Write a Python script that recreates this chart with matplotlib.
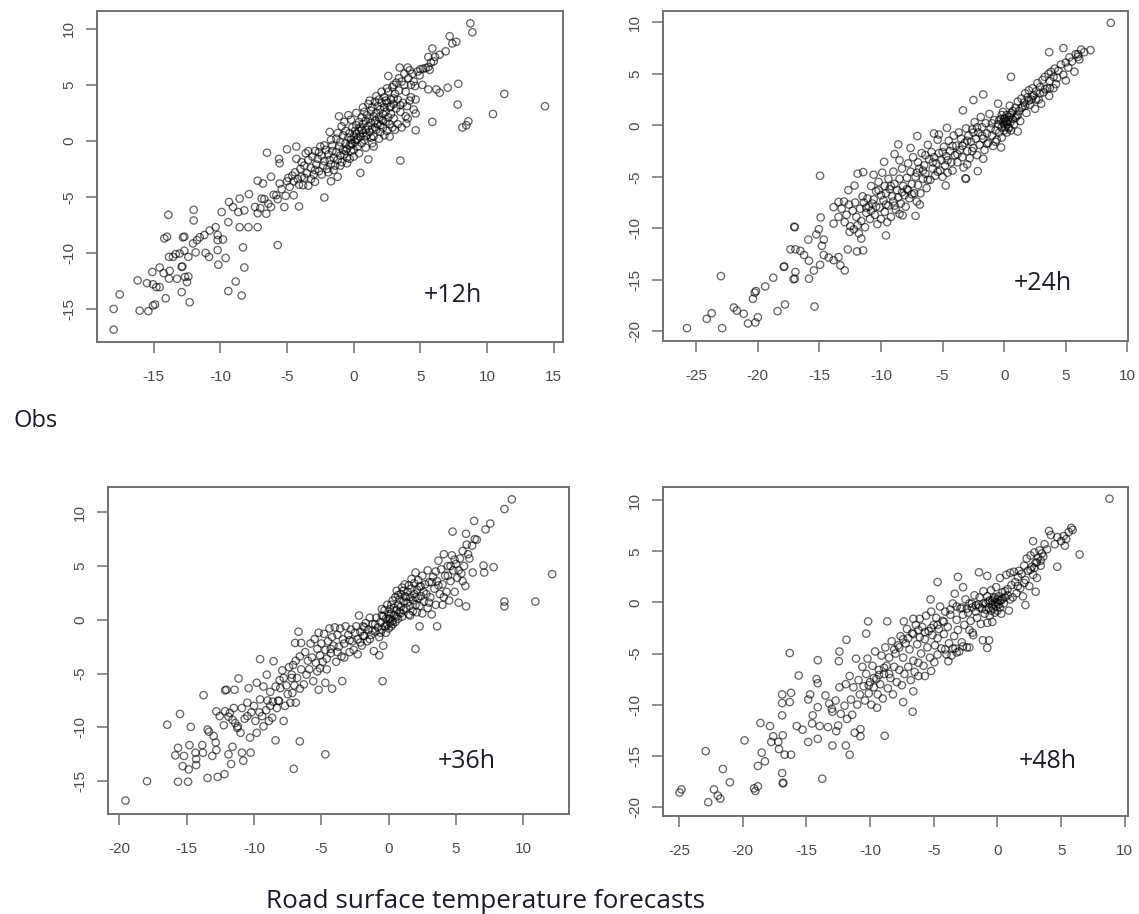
import matplotlib
matplotlib.use("Agg")
import matplotlib.pyplot as plt

plt.rcParams['font.family'] = ['Liberation Sans', 'DejaVu Sans']
plt.rcParams['axes.unicode_minus'] = False

W, H = 1139, 914

obs_fc_12h = [
(-18,-16.85),(-18,-15),(-17.55,-13.7),(-16.05,-15.15),(-15.4,-15.2),(-15.05,-14.7),(-14.9,-14.6),(-16.2,-12.45),(-15.5,-12.7),(-15.1,-11.7),
(-14.55,-11.3),(-14.25,-11.8),(-13.8,-11.6),(-13.85,-12.3),(-13.25,-12.3),(-15.05,-12.8),(-14.8,-13.05),(-14.55,-13.05),(-14.1,-14.05),(-12.9,-13.5),
(-12.3,-14.4),(-12.9,-11.25),(-12.85,-11.2),(-12.65,-12.15),(-12.4,-12.1),(-12.5,-12.6),(-13.9,-6.6),(-12,-6.15),(-12,-7.1),(-14.2,-8.7),(-14,-8.55),
(-12.8,-8.6),(-12.7,-8.55),(-13.85,-10.35),(-13.35,-10.1),(-13.55,-10.35),(-13.05,-10.05),(-12.7,-9.8),(-12.4,-10.35),(-11.85,-9.95),(-12.05,-9.15),
(-11.75,-8.85),(-11.55,-8.6),(-11.2,-8.4),(-10.8,-8),(-10.35,-7.7),(-10.2,-8.4),(-10.2,-8.85),(-9.8,-8.8),(-10.2,-9.75),(-11.1,-10),(-10.85,-10.35),
(-9.6,-10.45),(-10.15,-11.05),(-8.3,-9.5),(-8.2,-11.3),(-8.85,-12.55),(-9.4,-13.4),(-8.4,-13.8),(-5.7,-9.3),(-9.4,-7.25),(-9.9,-6.35),(-9.35,-5.45),
(-9.05,-5.9),(-8.65,-6.35),(-8.2,-6.2),(-8.55,-5.15),(-7.85,-4.75),(-8.55,-7.7),(-7.9,-7.7),(-7.2,-7.7),(-7.2,-6.45),(-6.55,-6.5),(-6.2,-5.9),(-6.9,-5.15),
(-7.4,-5.9),(-7.2,-3.55),(-6.8,-3.8),(-6.2,-3.2),(-5.8,-4.85),(-5.55,-3.8),(-5.2,-5.9),(-4.1,-5.85),(-4.5,-4.85),(-3.8,-3.95),(-6.5,-1.05),(-5.6,-1.6),
(-5.55,-2),(-5,-0.75),(-4.3,-0.5),(-2.2,-5.05),(-2.9,-3.65),(-3.4,-4),(-1.7,-3.6),(-1.2,-3.2),(0.5,-2.85),(1.1,-1.65),(1.5,-0.5),(-0.3,-1.6),(3.5,-1.75),
(4.65,0.95),(5.9,1.7),(4.65,2.45),(3.95,1.55),(4.05,2),(8.15,1.2),(8.6,1.75),(8.45,1.4),(10.45,2.4),(11.3,4.2),(14.35,3.1),(7.8,3.25),(7.85,5.1),(7.05,4.75),
(6.45,4.3),(6.2,4.6),(5.6,4.6),(5.15,5),(4.65,3.7),(8.75,10.5),(8.9,9.7),(7.7,8.85),(7.2,9.35),(7.4,8.7),(5.9,8.25),(6.9,8),(6.45,7.7),(6.1,7.5),(5.6,7.5),
(5.7,6.35),(5.2,6.45),(4.95,5.85),(4.2,6.3),(3.45,6.55),(4.05,6.55),(2.6,5.8),
(-4.9,-3.3),(-4.6,-3.1),(-4.4,-2.8),(-4.2,-3.4),(-4,-2.5),(-3.9,-3.2),(-3.7,-2.2),(-3.6,-1.1),(-3.5,-2.9),(-3.4,-1.7),(-3.2,-2.4),(-3.1,-1.4),(-3,-3),(-2.9,-0.9),
(-2.8,-2.1),(-2.7,-1.6),(-2.6,-2.7),(-2.5,-0.5),(-2.4,-1.3),(-2.3,-2.2),(-2.2,-1.8),(-2.1,-0.8),(-2,-2.5),(-1.9,-1.2),(-1.8,-1.7),(-1.8,0.8),(-1.7,-2.1),(-1.6,-0.4),
(-1.6,-0.9),(-1.5,-1.5),(-1.4,-2.2),(-1.3,0.2),(-1.3,-1),(-1.2,-1.7),(-1.1,-0.5),(-1.1,2.2),(-1,-1.3),(-1,-0.1),(-0.9,-1.9),(-0.9,1.3),(-0.8,-0.8),(-0.8,0.5),(-0.7,-1.2),
(-0.6,-0.2),(-0.6,0.9),(-0.5,-0.7),(-0.5,-1.5),(-0.4,0.3),(-0.4,2.3),(-0.3,-0.4),(-0.3,0.7),(-0.2,-0.9),(-0.2,0.1),(-0.1,1.2),(-0.1,-0.3),(0,0.4),(0,-0.8),(0.1,0.9),
(0.1,-0.1),(0.2,0.6),(0.2,1.4),(0.3,0.2),(0.3,-0.5),(0.4,0.9),(0.4,1.7),(0.5,0.4),(0.5,1.2),(0.6,-0.2),(0.6,2.1),(0.7,0.7),(0.7,1.5),(0.8,0.1),(0.8,2.6),(0.9,1),(0.9,1.8),
(1,0.5),(1,2.3),(1.1,1.3),(1.1,3.3),(1.2,0.8),(1.2,2),(1.3,1.6),(1.3,2.7),(1.4,1.1),(1.4,3),(1.5,0.4),(1.5,2.2),(1.6,1.8),(1.6,3.5),(1.7,2.5),(1.7,1),(1.8,3.1),(1.8,1.5),
(1.9,2.1),(1.9,3.7),(2,0.8),(2,2.8),(2.1,3.4),(2.1,1.9),(2.2,2.4),(2.2,1.2),(2.3,3),(2.3,3.9),(2.4,1.7),(2.4,2.6),(2.5,3.4),(2.5,0.9),(2.6,2.1),(2.6,4.4),(2.7,3),(2.7,1.5),
(2.8,3.7),(2.8,2.4),(2.9,4.8),(2.9,1.2),(3,3.3),(3,2),(3.1,4.2),(3.2,2.9),(3.2,5.2),(3.3,3.7),(3.3,1.5),(3.4,4.5),(3.5,2.6),(3.6,5.3),(3.7,3.4),(3.8,5),(3.9,4.4),(4,3.1),
(4.1,5.6),(4.2,3.6),(4.3,5),(4.4,6),(4.5,5.3),(4.6,4.9),(4.8,6.2),(5,6.4),(5.4,6.5),(5.6,6.6),(5.8,7),(6,7.1),
(-7,-6),(-6.7,-5.2),(-6.4,-5.6),(-6,-4.8),(-5.7,-5.2),(-5.4,-4.3),(-5.1,-4.9),(-5,-3.6),(-4.8,-4.1),(-4.5,-3.6),(-4.3,-1.6),(-4.1,-3.9),(-3.9,-1.9),(-3.7,-3.3),(-3.4,-0.9),
(-3.2,-3.4),(-2.9,-2.6),(-2.6,-1),(-2.4,-3),(-2.2,-0.4),(-1.9,-2.8),(-1.7,0.1),(-1.5,-2.6),(-1.2,0.7),(-1,-2.2),(-0.7,1.7),(-0.5,-2),(-0.2,1.9),(0,-1.4),(0.2,2.5),(0.4,-1.1),
(0.7,3),(0.9,-0.6),(1.2,3.6),(1.4,-0.2),(1.7,4),(1.9,0.2),(2.1,4.4),(2.3,0.5),(2.5,4.7),(2.7,0.4),(3,5),(3.1,1),(3.4,5.6),(3.6,1.2),(3.8,6),(3.9,2.2),(4.3,3.9),(4.5,2.8),(3.5,3.2),(3,3.8),
(2.4,3.6),(2,1.4),(1.3,0.3),(0.6,1),(0.2,0.1),(-0.2,-0.2),(-0.6,-0.9),(0.9,0.4),(1.6,1.2),(2.2,1.8),(2.8,3.1)]

obs_fc_24h = [
(8.65,9.95),(-25.75,-19.7),(-22.9,-19.7),(-24.15,-18.8),(-23.75,-18.25),(-23,-14.65),(-21.95,-17.7),(-21.7,-18),(-21.15,-18.3),(-20.8,-19.25),(-20.2,-19.15),(-20,-18.65),
(-20.4,-16.85),(-20.25,-16.25),(-20.15,-16.1),(-19.4,-15.65),(-18.75,-14.8),(-17.9,-13.75),(-17.85,-13.7),(-18.4,-18.05),(-17.8,-17.4),(-17.1,-14.95),(-17,-14.9),(-16.95,-14.25),(-15.4,-17.6),
(-15.85,-14.9),(-15.45,-14.1),(-14.95,-13.55),(-17.05,-9.85),(-17,-9.9),(-17.35,-12.05),(-16.95,-12.05),(-16.55,-12.2),(-16.25,-12.6),(-15.85,-13.15),(-15.9,-11.1),(-15.25,-10.6),
(-15.05,-10.1),(-14.9,-8.95),(-14.95,-4.9),(-14.65,-11.1),(-14.8,-11.7),(-14.65,-12.6),(-14.25,-12.85),(-13.85,-13.1),(-13.45,-12.8),(-13.3,-13.6),(-12.95,-14.1),(-13.85,-9.55),
(-13.85,-7.95),(-13.45,-7.45),(-13.45,-8.9),(-12.7,-12.05),(-11.95,-12.25),(-11.45,-12.15),(-11.6,-11),(-12.55,-10.35),(-12.95,-9.4),(-12.65,-6.3),(-12.15,-5.85),(-11.9,-4.7),(-11.45,-4.55),
(-9.6,-10.7),(-8.25,-8.75),(-7.2,-8.8),(-6.85,-7.7),(-8.6,-1.85),(-8.9,-2.8),(-9.75,-3.55),(-7.05,-1.05),(-5.7,-0.8),(-4.65,-0.25),(-3.35,1.45),(-2.5,2.45),(-1.7,3),(0.55,4.7),(1.1,-0.6),
(-0.25,-2.15),(-1.7,-3.25),(-2.15,-4.45),(-3.1,-5.2),(-3.15,-5.15),(-4.75,-5.85),(3.65,7.1),(4.8,7.5),(5,4.35),(3.65,2.85),(7,7.3),(6.25,7.35),(6,6.65),
(-13.2,-8.1),(-13,-7.4),(-12.8,-8.7),(-12.6,-7.7),(-12.5,-9.8),(-12.3,-8.3),(-12.2,-10.1),(-12.1,-7.5),(-12,-8.9),(-11.9,-9.7),(-11.8,-10.5),(-11.7,-8.1),(-11.6,-9.3),(-11.5,-6.9),(-11.4,-7.5),
(-11.3,-9.9),(-11.2,-8.5),(-11.1,-7.1),(-11,-7.9),(-10.9,-9.1),(-10.8,-5.9),(-10.8,-8.3),(-10.7,-7.6),(-10.6,-4.8),(-10.5,-8.7),(-10.4,-6.4),(-10.4,-7.9),(-10.3,-9.6),(-10.2,-5.5),(-10.1,-8),
(-10,-6.8),(-10,-9.1),(-9.9,-4.6),(-9.8,-7.3),(-9.7,-5.9),(-9.7,-8.4),(-9.6,-6.6),(-9.5,-9.4),(-9.4,-5.2),(-9.4,-7.8),(-9.3,-6.2),(-9.2,-8.9),(-9.1,-6.9),(-9,-4.5),(-9,-7.4),(-8.9,-5.7),(-8.8,-8.2),
(-8.7,-6.3),(-8.6,-7),(-8.5,-5.2),(-8.5,-8.6),(-8.4,-7.6),(-8.3,-4.2),(-8.2,-5.9),(-8.1,-6.8),(-8,-7.9),(-7.9,-5.1),(-7.8,-3.7),(-7.8,-6.3),(-7.7,-7.1),(-7.6,-4.5),(-7.5,-5.7),(-7.4,-3.1),(-7.3,-6.6),
(-7.2,-5),(-7.1,-7.4),(-7,-3.6),(-7,-5.8),(-6.9,-4.2),(-6.8,-6.6),(-6.7,-2.7),(-6.6,-5.2),(-6.5,-3.9),(-6.4,-4.7),(-6.3,-6.1),(-6.2,-1.9),(-6.1,-3.3),(-6,-5.3),(-5.9,-2.6),(-5.8,-4.2),(-5.7,-3.1),
(-5.6,-4.9),(-5.5,-3.7),(-5.4,-1.4),(-5.3,-2.7),(-5.2,-4.4),(-5.1,-3.4),(-5,-5),(-4.9,-2.1),(-4.8,-3.9),(-4.7,-3),(-4.6,-4.6),(-4.5,-1.5),(-4.4,-2.5),(-4.3,-3.6),(-4.2,-4.4),(-4.1,-1),(-4,-2.9),
(-3.9,-2),(-3.8,-3.6),(-3.7,-0.7),(-3.6,-2.4),(-3.5,-1.3),(-3.4,-3.1),(-3.3,-4.1),(-3.2,-1.7),(-3.1,-0.3),(-3,-2.5),(-2.9,-1),(-2.8,-3.2),(-2.7,-1.6),(-2.6,-0.4),(-2.5,-2.2),(-2.4,0.3),(-2.3,-1.3),
(-2.2,-2.9),(-2.1,-0.7),(-2,-1.9),(-1.9,0.8),(-1.8,-0.2),(-1.7,-1.3),(-1.6,-2.4),(-1.5,0.2),(-1.4,-0.8),(-1.3,-1.7),(-1.2,1.1),(-1.1,-0.3),(-1,-1),(-0.9,-2),(-0.8,0.5),(-0.7,-0.5),(-0.6,-1.4),
(-0.5,2.1),(-0.5,0.1),(-0.4,-0.7),(-0.3,0.6),(-0.2,-0.2),(-0.2,-1.2),(-0.1,0.3),(-0.1,1.3),(0,-0.5),(0,0.1),(0.05,0.7),(0.1,-0.2),(0.1,0.4),(0.2,-0.7),(0.2,1),(0.25,0.1),(0.3,0.5),(0.35,-0.2),
(0.4,0.8),(0.45,1.9),(0.5,0.3),(0.55,-0.5),(0.6,1.2),(0.7,0.6),(0.8,0.1),(0.9,1.7),(1,0.9),(1.1,2.3),(1.2,1.4),(1.3,0.4),(1.4,2.6),(1.5,1.8),(1.6,2.2),(1.7,3.1),(1.8,1.2),(1.9,2.7),(2,3.4),(2.1,2),
(2.2,2.5),(2.3,3.6),(2.4,2.9),(2.5,1.6),(2.6,3.3),(2.7,4.1),(2.8,2.5),(2.9,3.7),(3,2.1),(3.1,4.4),(3.2,3.2),(3.3,4.7),(3.5,3.6),(3.6,5),(3.7,4.3),(3.8,5.2),(4,4.7),(4.1,5.5),(4.2,4),(4.4,5.3),(4.6,5.9),
(4.8,4.9),(5,6.1),(5.2,5.6),(5.3,6.6),(5.5,6.2),(5.7,5.2),(5.8,6.9),(6,6.9),(6.1,6.4),(6.5,7.1),
(-11.2,-8),(-10.6,-7.2),(-10.2,-6.3),(-9.6,-7.7),(-9.2,-5.9),(-8.9,-7.8),(-8.3,-6.5),(-7.9,-6.2),(-7.5,-6.7),(-7.1,-4.6),(-6.6,-4.4),(-6.2,-5.3),(-5.8,-3.6),(-5.4,-4.5),(-5,-2.6),(-4.6,-3.4),
(-4.2,-2),(-3.8,-2.8),(-3.4,-2),(-3,-1.5),(-2.6,-2.5),(-2.2,-0.2),(-1.8,-1),(-1.4,-1.8),(-1,0.2),(-0.7,-1.6),(-0.4,0.5),(-0.2,1),(0,0.6),(0.2,0.3),(0.4,-0.3),(0.5,1),(0.7,1.4),(0.9,0.7),(1.1,1),
(1.4,1.7),(1.7,1.9),(2,2.4),(2.3,2.8),(2.6,2.5),(2.9,3.1),(3.3,3.5),(3.7,3.6),(4,3.6),(4.3,4.6),(-3,-3.8),(-2.5,-0.7),(-5.3,-0.9),(-6.4,-2.9),(-7.6,-2.2),(-8.5,-3.4)]

obs_fc_36h = [
(-19.55,-16.8),(-17.95,-15),(-15.65,-15.05),(-14.9,-15.05),(-13.45,-14.7),(-12.7,-14.6),(-12.2,-14.35),(-16.45,-9.75),(-15.5,-8.75),(-14.7,-9.95),(-13.75,-7),(-15.85,-12.6),(-15.65,-11.9),
(-14.8,-11.65),(-15.2,-12.65),(-15.3,-13.6),(-14.85,-13.9),(-14.3,-13.5),(-14.3,-12.95),(-14.35,-12.35),(-13.85,-11.65),(-13.8,-12.35),(-13.1,-12.65),(-12.8,-12.1),(-12.85,-11.4),(-13,-10.8),
(-13.45,-10.2),(-13.35,-10.4),(-12.25,-9.8),(-12.8,-8.5),(-12.55,-8.95),(-12.15,-8.5),(-11.8,-8.65),(-11.5,-8.2),(-12.15,-6.55),(-12.05,-6.5),(-11.45,-6.5),(-11.15,-5.45),(-11.9,-12.5),(-11.6,-11.8),
(-11.7,-13.4),(-10.9,-12.35),(-10.8,-13.1),(-10.25,-12.35),(-10.3,-10.95),(-11.25,-10.05),(-11,-10.5),(-10.5,-8.95),(-10.5,-7.7),(-10.4,-6.35),(-10,-8),(-9.55,-3.65),(-9.8,-5.85),(-9.3,-6.2),
(-9.55,-7.4),(-9.4,-8.95),(-9.3,-9.9),(-9.8,-10.5),(-8.65,-9.1),(-8.4,-11.2),(-6.6,-11.3),(-4.7,-12.5),(-7.05,-13.85),(-7.8,-9.4),(-7.3,-7.7),(-6.9,-7.7),(-7.15,-6.8),(-8.15,-7.55),(-8.8,-8),
(-8.05,-6.35),(-8.55,-3.85),(-9.05,-5.1),(-7.2,-5.1),(-6.95,-2.15),(-6.7,-1.1),(-6.5,-2.15),(-6.3,-6),(-5.2,-6.5),(-4.7,-5.85),(-4.2,-6.4),(-3.45,-5.7),(-0.45,-5.7),(-5.3,-4.8),(2,-2.7),(2.3,-0.6),
(3.6,-0.6),(5.75,1.25),(5.7,3.15),(8.6,1.25),(8.6,1.7),(10.9,1.7),(12.15,4.25),(6.25,4.4),(7.05,5.05),(7.1,4.4),(7.8,4.9),(9.15,11.2),(8.6,10.3),(6.35,9.2),(4.75,8.2),(5.75,8),(7.55,8.95),(7.2,8.4),(6.55,7.45),
(-11.9,-9),(-11.6,-9.3),(-11.2,-9.9),(-10.9,-8.2),(-10.2,-8.6),(-9.9,-9.4),(-9.1,-8.4),(-9,-7.5),(-8.8,-6.7),(-8.6,-7.6),(-8.4,-6.2),(-8.3,-8.2),(-8.1,-5.6),(-7.9,-4.7),(-7.8,-5.4),(-7.6,-6.1),(-7.4,-4.4),
(-7.2,-5.4),(-7.1,-4.2),(-6.9,-3.8),(-6.8,-5.4),(-6.6,-3.4),(-6.5,-4.6),(-6.2,-3),(-6,-3.8),(-5.8,-2.2),(-5.7,-3.5),(-5.5,-1.8),(-5.4,-4),(-5.3,-2.7),(-5.2,-1.2),(-5.1,-3.3),(-5,-2.2),(-4.9,-3.9),
(-4.8,-1.3),(-4.7,-2.8),(-4.6,-3.6),(-4.5,-2),(-4.4,-0.8),(-4.3,-3.1),(-4.2,-1.6),(-4.1,-2.4),(-4,-0.7),(-3.9,-3.9),(-3.8,-1.4),(-3.7,-2.5),(-3.6,-0.8),(-3.5,-3.4),(-3.4,-1.8),(-3.3,-2.2),(-3.2,-0.6),
(-3,-1.4),(-2.9,-3),(-2.8,-0.9),(-2.7,-2),(-2.5,-1.2),(-2.4,-0.6),(-2.3,-1.8),(-2.3,-3.2),(-2.2,0.4),(-2.1,-1.1),(-2,-2.4),(-1.9,-0.6),(-1.8,-1.5),(-1.7,-0.3),(-1.6,-2),(-1.5,-0.9),(-1.4,0.2),(-1.3,-1.4),
(-1.2,-0.4),(-1.1,-2.9),(-1,-1.1),(-0.9,0.2),(-0.8,-0.7),(-0.7,-3.3),(-0.7,-1.6),(-0.6,-0.2),(-0.5,1),(-0.5,-0.9),(-0.4,0.3),(-0.4,-2.4),(-0.3,-0.6),(-0.3,0.9),(-0.2,-1.2),(-0.2,0.1),(-0.1,-0.4),(-0.1,1.4),
(0,0.5),(0,-0.8),(0.1,0.1),(0.1,-0.3),(0.1,1),(0.2,-0.6),(0.2,0.6),(0.3,1.8),(0.3,-0.1),(0.4,0.4),(0.4,1.1),(0.5,2.1),(0.5,-0.2),(0.6,0.9),(0.6,2.7),(0.7,1.4),(0.7,0.1),(0.8,1.9),(0.8,0.7),(0.9,2.4),
(0.9,1.2),(1,0.3),(1,3),(1.1,1.7),(1.1,0.9),(1.2,2.2),(1.2,3.3),(1.3,1.1),(1.4,2.6),(1.4,1.6),(1.5,0.5),(1.5,3.2),(1.6,2.1),(1.6,1.3),(1.7,2.9),(1.7,3.8),(1.8,1.8),(1.8,0.8),(1.9,2.4),(1.9,3.4),(2,1.4),
(2,4.4),(2.1,2.8),(2.1,0.7),(2.2,2),(2.2,3.7),(2.3,1.3),(2.4,3.1),(2.4,2.2),(2.5,0.6),(2.5,4.1),(2.6,1.7),(2.7,3.3),(2.8,2.4),(2.9,1.1),(2.9,4.6),(3,3.5),(3.1,2.1),(3.2,0.5),(3.3,4),(3.4,2.9),
(3.5,1.4),(3.6,3.6),(3.7,5.5),(3.8,2.4),(3.9,4.7),(4,3.3),(4,1.4),(4.1,6.1),(4.2,4.1),(4.3,2.6),(4.4,5),(4.5,1.8),(4.6,3.6),(4.7,6),(4.8,4.6),(4.9,2.6),(5,5.2),(5.1,3.9),(5.2,1.6),(5.3,5.7),
(5.4,4.3),(5.5,6.4),(5.6,5),(5.8,7),(5.9,6.1),(6,5.7),(6.2,6.9),(6.4,7.5),
(-11.4,-9.6),(-10.7,-9.2),(-9.6,-8.6),(-8.9,-9.4),(-8.2,-7.5),(-7.7,-8),(-7.5,-6.9),(-7,-6.1),(-6.6,-6.4),(-6.1,-5.1),(-5.9,-4.6),(-5.6,-5.7),(-5.1,-4.5),(-4.6,-4.6),(-4.3,-2.7),(-3.8,-3),(-3.3,-3.5),
(-2.9,-1.9),(-2.6,-2.8),(-2.1,-2.1),(-1.8,-0.7),(-1.4,-1.8),(-1,-0.4),(-0.6,-1.2),(-0.2,-0.6),(0,0.1),(0.3,-0.4),(0.6,0.3),(0.9,0.6),(1.3,2.1),(1.6,0.4),(2,2.1),(2.3,3.1),(2.6,2.6),(3,1.6),(3.2,3.5),
(3.5,4.5),(3.7,3.2),(4.1,2.1),(4.4,4.1),(4.6,5),(4.9,5.6),(5.2,4.6),(5.5,3.6),(1.1,2.7),(0.7,2.3),(0.2,1.4),(-0.5,0.4),(-1.2,-1),(-1.9,-1.5)]

obs_fc_48h = [
(8.8,10.15),(-24.95,-18.6),(-24.8,-18.3),(-22.7,-19.55),(-22.25,-18.3),(-21.95,-18.9),(-21.75,-19.2),(-21,-17.6),(-22.9,-14.55),(-21.55,-16.3),(-19.85,-13.5),(-19,-18.45),(-18.8,-18),
(-19.1,-18.2),(-16.9,-16.7),(-16.85,-17.7),(-16.8,-17.65),(-13.75,-17.25),(-18.25,-15.55),(-18.8,-16),(-18.5,-14.7),(-18.6,-11.8),(-17.85,-12.1),(-17.6,-13.1),(-17.75,-13.65),(-17.2,-13.65),
(-16.85,-13),(-17.15,-14.35),(-16.7,-14.9),(-16.2,-14.9),(-16.9,-11.05),(-16.9,-9),(-16.2,-8.85),(-16.9,-9.85),(-16.3,-9.75),(-16.3,-4.95),(-15.6,-7.15),(-15.75,-12.1),(-15.3,-12.45),(-14.85,-13.65),
(-14.1,-13.35),(-12.95,-14),(-11.9,-14),(-11.6,-14.9),(-11.2,-12.75),(-10.75,-12.4),(-10.75,-13.1),(-8.85,-13.05),(-14.55,-11.85),(-13.95,-12.1),(-13.3,-12.2),(-12.65,-12.6),(-12.5,-12.05),
(-14.5,-11.05),(-14.1,-10.25),(-14.85,-9.5),(-14.7,-9),(-13.5,-9.1),(-12.95,-10.7),(-14.1,-5.65),(-14.2,-7.5),(-14.1,-7.9),(-12.4,-4.8),(-11.85,-3.65),(-12.45,-5.75),(-10.3,-3.05),(-10.15,-1.85),
(-8.65,-1.85),(-7.35,-1.85),(-6.6,-1.6),(-6.1,-1.6),(-5.25,0.3),(-4.7,2),(-3.1,2.5),(-1.45,2.95),(-0.8,2.6),(-2.7,1.5),(-3.35,0.85),(-6.6,-8.7),(-7.4,-9.75),(-6.65,-10.7),(-9.45,-10.3),(-4.95,-5.85),
(-3.85,-5.75),(-2.2,-4.4),(-0.8,-4.45),(-1.15,-3.7),(-0.65,-3.7),(-1.95,-2.95),(2.2,-0.25),(3,1.05),(4.7,3.5),(6.45,4.7),(4.05,7),(5.8,7.3),(5.3,5.55),(2.8,6),
(-13.2,-9.9),(-13,-10.4),(-12.7,-9.6),(-12.4,-8.3),(-12.3,-10.9),(-12,-10.1),(-11.9,-8),(-11.8,-11.4),(-11.6,-7.2),(-11.5,-9.5),(-11.4,-11),(-11.3,-8.3),(-11.1,-5.5),(-11,-10),(-10.9,-7.6),(-10.8,-9),
(-10.6,-6.3),(-10.5,-8.2),(-10.4,-9.6),(-10.3,-7),(-10.2,-5.5),(-10.1,-8.9),(-10,-7.8),(-9.9,-10),(-9.8,-6.2),(-9.7,-8.3),(-9.6,-4.8),(-9.5,-7.5),(-9.4,-9),(-9.3,-6.6),(-9.2,-8),(-9.1,-5.2),(-9,-9.4),
(-8.9,-7),(-8.8,-4.4),(-8.7,-6.2),(-8.6,-8.4),(-8.5,-5.4),(-8.4,-7.4),(-8.3,-3.8),(-8.2,-9),(-8.1,-6.3),(-8,-5),(-7.9,-7.8),(-7.8,-4.2),(-7.7,-6.6),(-7.6,-3.3),(-7.5,-8.1),(-7.4,-5.4),(-7.3,-7),(-7.2,-4),
(-7.1,-2.6),(-7,-6.3),(-6.9,-4.6),(-6.8,-7.6),(-6.7,-3),(-6.6,-5.7),(-6.5,-6.8),(-6.4,-2.2),(-6.3,-4.1),(-6.2,-7.2),(-6.1,-3.4),(-6,-5),(-5.9,-2.4),(-5.8,-6.2),(-5.7,-3.6),(-5.6,-1.3),(-5.5,-4.4),(-5.4,-2.8),
(-5.3,-5.4),(-5.2,-0.9),(-5.1,-3.2),(-5,-2.2),(-4.9,-4.2),(-4.8,-1.5),(-4.7,-3.5),(-4.6,-2.6),(-4.5,-0.4),(-4.4,-4.5),(-4.3,-1.8),(-4.2,-3.1),(-4.1,-0.9),(-4,-5.1),(-3.9,-2.4),(-3.8,-4),(-3.7,-1.2),(-3.6,-5.2),
(-3.5,-0.1),(-3.4,-3.3),(-3.3,-4.5),(-3.2,-1.7),(-3.1,-2.7),(-3,-4.8),(-2.9,-0.6),(-2.8,-3.9),(-2.7,-1.2),(-2.6,-2.2),(-2.5,0.3),(-2.4,-4.4),(-2.3,-1),(-2.2,-0.1),(-2.1,-1.8),(-2,-0.5),(-1.9,-3.2),(-1.8,0.7),
(-1.7,-0.9),(-1.6,-1.5),(-1.5,-0.2),(-1.4,0.5),(-1.3,-2.1),(-1.2,-0.6),(-1.1,1.1),(-1,-1.1),(-0.9,-0.1),(-0.8,-2),(-0.8,0.6),(-0.7,-0.5),(-0.6,-1.3),(-0.6,0.2),(-0.5,-0.8),(-0.5,1.2),(-0.4,-0.2),(-0.4,-1.9),
(-0.3,-0.6),(-0.3,0.4),(-0.2,-1),(-0.2,0),(-0.1,-0.4),(-0.1,1.5),(0,0.3),(0,-0.8),(0.1,-0.2),(0.1,0.6),(0.2,-0.5),(0.2,2.4),(0.3,0.2),(0.3,-1.1),(0.4,1),(0.5,-0.1),(0.6,0.5),(0.7,2.7),(0.8,1.3),(0.9,-0.8),
(1,2.9),(1.1,1.7),(1.2,0.5),(1.3,3),(1.4,2),(1.5,0.9),(1.6,2.5),(1.7,3.1),(1.8,1.4),(1.9,2.8),(2,0.6),(2.1,3.6),(2.2,2.2),(2.3,4.3),(2.4,3.1),(2.5,1.6),(2.6,4.6),(2.7,3.5),(2.8,2.7),(2.9,4.9),(3,3.9),
(3.1,2.4),(3.2,4.4),(3.3,5.1),(3.4,3.6),(3.5,4.8),(3.7,5.7),(3.9,5.2),(4.2,6.6),(4.5,5.7),(4.7,6.4),(5,6),(5.2,6.5),(5.4,6.2),(5.6,6.9),(5.9,7.1),
(-3.2,-0.4),(-2.8,-0.5),(-2.4,-0.6),(-2,-0.1),(-1.7,-0.3),(-1.4,-0.5),(-1.1,-0.1),(-0.9,-0.7),(-0.7,0.1),(-0.4,0.2),(-0.2,0.5),(0,0),(0.2,0.2),(0.4,0.4),(0.6,1.1),(0.8,0.7),(1,0.3),(-3.7,-0.7),(-4.2,-1.9),
(-4.7,-2.2),(-5.2,-2.5),(-5.7,-2.9),(-6.2,-2.7),(-6.6,-3.1),(-7,-3.5),(-7.4,-3.6),(-7.7,-4.4),(-8.1,-4.6),(-8.5,-7),(-8.9,-6.4),(-9.3,-7.1),(-9.7,-7.4),(-10.1,-8.1),(-5.7,-7.2),(-6.2,-5.9),(-5.2,-6.7),
(-4.7,-5.1),(-4.1,-4.6),(-3.2,-4.9),(-2.7,-4.3),(-3.5,-4.5),(-2.2,-2.7),(1.6,1.6),(2.1,1.9),(2.6,3.2),(2.9,3.4),(3.1,3.9),(3.4,4.1),(3.6,4.5)]

x_ticks_12 = [-15, -10, -5, 0, 5, 10, 15]
x_ticks_24 = [-25, -20, -15, -10, -5, 0, 5, 10]
x_ticks_36 = [-20, -15, -10, -5, 0, 5, 10]
x_ticks_48 = [-25, -20, -15, -10, -5, 0, 5, 10]
y_ticks_12 = [-15, -10, -5, 0, 5, 10]
y_ticks_24 = [-20, -15, -10, -5, 0, 5, 10]
y_ticks_36 = [-15, -10, -5, 0, 5, 10]
y_ticks_48 = [-20, -15, -10, -5, 0, 5, 10]

panels = [
    dict(box=(97, 11, 563, 342), xlim=(-19.25, 15.7), ylim=(-17.95, 11.6), pts=obs_fc_12h,
         xt=x_ticks_12, yt=y_ticks_12, lab="+12h", lab_px=(453, 296)),
    dict(box=(663, 11, 1128, 341), xlim=(-27.7, 10.05), ylim=(-20.95, 11.1), pts=obs_fc_24h,
         xt=x_ticks_24, yt=y_ticks_24, lab="+24h", lab_px=(1043, 284)),
    dict(box=(108, 487, 569, 814), xlim=(-20.85, 13.4), ylim=(-18.05, 12.35), pts=obs_fc_36h,
         xt=x_ticks_36, yt=y_ticks_36, lab="+36h", lab_px=(467, 761)),
    dict(box=(663, 487, 1128, 816), xlim=(-26.25, 10.25), ylim=(-20.9, 11.3), pts=obs_fc_48h,
         xt=x_ticks_48, yt=y_ticks_48, lab="+48h", lab_px=(1048, 761)),
]

fig = plt.figure(figsize=(W / 100, H / 100), dpi=100, facecolor="white")
SP = "#707070"
TXT = "#1c1c28"
for p in panels:
    l, t, r, b = p["box"]
    ax = fig.add_axes([l / W, 1 - b / H, (r - l) / W, (b - t) / H])
    xs = [q[0] for q in p["pts"]]
    ys = [q[1] for q in p["pts"]]
    ax.scatter(xs, ys, s=28, facecolors="none", edgecolors="#000000", linewidths=0.95, alpha=0.6, clip_on=False)
    ax.set_xlim(*p["xlim"])
    ax.set_ylim(*p["ylim"])
    ax.set_xticks(p["xt"])
    ax.set_yticks(p["yt"])
    ax.tick_params(axis="x", length=8, width=1.1, color=SP, labelsize=11, labelcolor="#4a4a4a", pad=12)
    ax.tick_params(axis="y", length=8, width=1.1, color=SP, labelsize=11, labelcolor="#4a4a4a", pad=7)
    for lbl in ax.get_yticklabels():
        lbl.set_rotation(90)
        lbl.set_va("center")
    for s in ax.spines.values():
        s.set_color(SP)
        s.set_linewidth(1.4)
    fig.text(p["lab_px"][0] / W, 1 - p["lab_px"][1] / H, p["lab"], family="Open Sans", fontsize=18,
             color=TXT, ha="center", va="center")

fig.text(36 / W, 1 - 421 / H, "Obs", family="Open Sans", fontsize=17, color=TXT, ha="center", va="center")
fig.text(486 / W, 1 - 901 / H, "Road surface temperature forecasts", family="Open Sans", fontsize=18.8,
         color=TXT, ha="center", va="center")

fig.savefig("out.png", dpi=100, facecolor="white")
